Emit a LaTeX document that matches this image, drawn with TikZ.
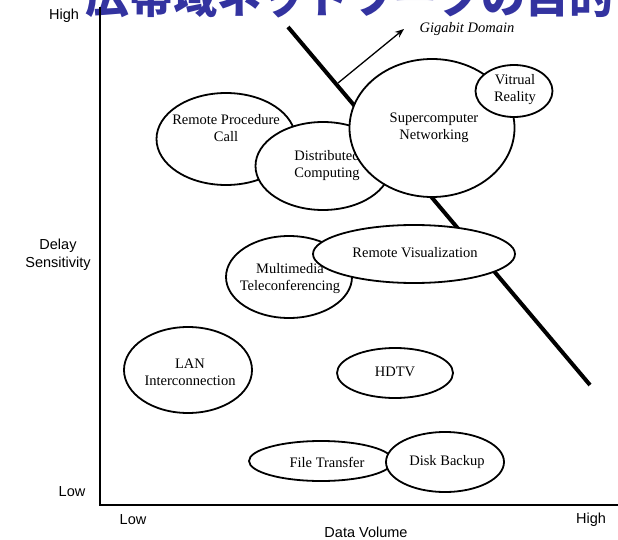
\documentclass[tikz,border=0pt]{standalone}
\usepackage{fontspec}
\setmainfont{Liberation Serif}
\setsansfont{Liberation Sans}
\newfontfamily\cjkfont{Noto Sans CJK JP}
\usetikzlibrary{shapes.geometric,arrows.meta}
\definecolor{titleblue}{RGB}{51,51,160}
\tikzset{
  blob/.style={ellipse, draw=black, line width=1.8pt, fill=white, inner sep=0pt},
  lbl/.style={align=center, inner sep=0pt, font=\fontsize{14.5}{17}\selectfont},
  axlbl/.style={align=center, inner sep=0pt, font=\sffamily\fontsize{14.5}{18}\selectfont},
  axisline/.style={line width=1.5pt},
  boundary/.style={line width=4pt},
}
\begin{document}
\begin{tikzpicture}[x=1pt,y=-1pt]
\useasboundingbox (0,0) rectangle (618,540);
\clip (0,0) rectangle (618,540);

% heading (runs off the top edge)
\node[anchor=base west, inner sep=0pt, text=titleblue,
      font=\cjkfont\bfseries\fontsize{44}{44}\selectfont] (title) at (85,14) {広帯域ネットワークの目的};

% axes
\coordinate (ytop) at (100,7);
\coordinate (origin) at (100,505);
\coordinate (xend) at (618,505);
\draw[axisline] (ytop) -- (origin) -- (xend);

% axis labels
\node[axlbl] (yhigh) at (64,16) {High};
\node[axlbl] (ydelay) at (58,255) {Delay\\Sensitivity};
\node[axlbl] (ylow) at (72,492) {Low};
\node[axlbl] (xlow) at (133,520) {Low};
\node[axlbl] (xhigh) at (591,520) {High};
\node[axlbl] (xdata) at (366,532) {Data Volume};

% gigabit boundary and its pointer
\coordinate (gtop) at (288,27);
\coordinate (gbot) at (590,385);
\draw[boundary] (gtop) -- (gbot);
\coordinate (gfoot) at (338,83);
\coordinate (gtip) at (404,29);
\draw[line width=1.3pt, -{Stealth[length=9pt,width=7pt]}] (gfoot) -- (gtip);
\node[lbl, font=\itshape\fontsize{14.5}{17}\selectfont] (gd) at (467,29) {Gigabit Domain};

% application regions
\node[blob, minimum width=139pt, minimum height=92pt] (rpc) at (226,139) {};
\node[lbl] (rpct) at (226,128) {Remote Procedure\\Call};

\node[blob, minimum width=135pt, minimum height=88pt] (dc) at (323,166) {};
\node[lbl] (dct) at (327,166) {Distributed\\Computing};

\node[blob, minimum width=165pt, minimum height=138pt] (sc) at (432,128) {};
\node[lbl] (sct) at (434,128) {Supercomputer\\Networking};

\node[blob, minimum width=77pt, minimum height=52pt] (vr) at (514,91) {};
\node[lbl] (vrt) at (515,90) {Vitrual\\Reality};

\node[blob, minimum width=126pt, minimum height=82pt] (mt) at (289,277) {};
\node[lbl] (mtt) at (290,279) {Multimedia\\Teleconferencing};

\node[blob, minimum width=202pt, minimum height=58pt] (rv) at (414,254) {};
\node[lbl] (rvt) at (415,253) {Remote Visualization};

\node[blob, minimum width=128pt, minimum height=86pt] (lan) at (188,370) {};
\node[lbl] (lant) at (190,372) {LAN\\Interconnection};

\node[blob, minimum width=116pt, minimum height=50pt] (hdtv) at (395,373) {};
\node[lbl] (hdtvt) at (395,372) {HDTV};

\node[blob, minimum width=144pt, minimum height=40pt] (ft) at (321,461) {};
\node[lbl] (ftt) at (327,462) {File Transfer};

\node[blob, minimum width=118pt, minimum height=60pt] (db) at (445,462) {};
\node[lbl] (dbt) at (447,462) {Disk Backup};
\end{tikzpicture}
\end{document}
